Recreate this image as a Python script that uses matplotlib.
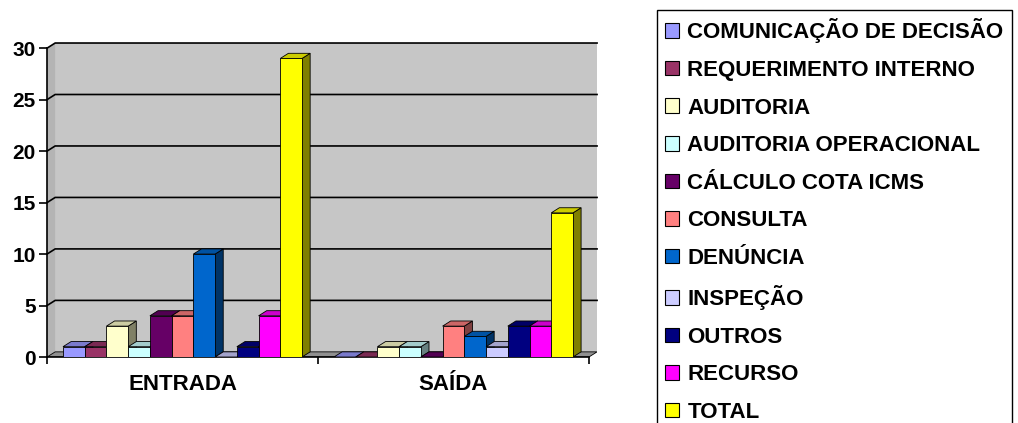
import numpy as np
import matplotlib
matplotlib.use("Agg")
from matplotlib import pyplot as plt
from matplotlib.patches import Patch, Polygon
from matplotlib import colors as mcolors

plt.rcParams['font.family'] = ['Liberation Sans', 'DejaVu Sans']

categories = ['ENTRADA', 'SAÍDA']
series = ['COMUNICAÇÃO DE DECISÃO', 'REQUERIMENTO INTERNO', 'AUDITORIA',
          'AUDITORIA OPERACIONAL', 'CÁLCULO COTA ICMS', 'CONSULTA',
          'DENÚNCIA', 'INSPEÇÃO', 'OUTROS', 'RECURSO', 'TOTAL']
entrada = [1, 1, 3, 1, 4, 4, 10, 0, 1, 4, 29]
saida = [0, 0, 1, 1, 0, 3, 2, 1, 3, 3, 14]
colors = ['#9999ff', '#993366', '#ffffcc', '#ccffff', '#660066', '#ff8080',
          '#0066cc', '#ccccff', '#000080', '#ff00ff', '#ffff00']
yticks = [0, 5, 10, 15, 20, 25, 30]

values = np.array([entrada, saida])  # shape (categories, series)

def shade(c, f):
    r, g, b = mcolors.to_rgb(c)
    return (r * f, g * f, b * f)

fig = plt.figure(figsize=(10.18, 4.23), dpi=100)
ax = fig.add_axes([0.0462, 0.156, 0.5403, 0.7423])

n = len(series)
w = 0.0802      # bar width
dx = 0.03       # 3d depth, x
dy = 0.5        # 3d depth, y

ax.set_xlim(-0.5, 1.5 + dx)
ax.set_ylim(0, 30 + dy)

# back wall + side wall
wall = Polygon([(-0.5 + dx, dy), (1.5 + dx, dy), (1.5 + dx, 30 + dy), (-0.5 + dx, 30 + dy)],
               closed=True, facecolor='#c6c6c6', edgecolor='none', zorder=0)
ax.add_patch(wall)
left_wall = Polygon([(-0.5, 0), (-0.5 + dx, dy), (-0.5 + dx, 30 + dy), (-0.5, 30)],
                    closed=True, facecolor='#b4b4b4', edgecolor='none', zorder=0)
ax.add_patch(left_wall)
for y in yticks[1:]:
    ax.plot([-0.5, -0.5 + dx, 1.5 + dx], [y, y + dy, y + dy], color='black', lw=1.2,
            zorder=1, clip_on=False)

# floor
floor = Polygon([(-0.5, 0), (1.5, 0), (1.5 + dx, dy), (-0.5 + dx, dy)],
                closed=True, facecolor='#909090', edgecolor='black', lw=0.6, zorder=2)
ax.add_patch(floor)

z = 3
for c in range(len(categories)):
    for i in range(n):
        h = values[c, i]
        x0 = c - n * w / 2 + i * w
        x1 = x0 + w
        side = Polygon([(x1, 0), (x1 + dx, dy), (x1 + dx, h + dy), (x1, h)],
                       closed=True, facecolor=shade(colors[i], 0.5),
                       edgecolor='black', lw=0.6, zorder=z)
        top = Polygon([(x0, h), (x1, h), (x1 + dx, h + dy), (x0 + dx, h + dy)],
                      closed=True, facecolor=shade(colors[i], 0.8),
                      edgecolor='black', lw=0.6, zorder=z)
        ax.add_patch(side)
        ax.add_patch(top)
        ax.bar(x0, h, width=w, align='edge', color=colors[i],
               edgecolor='black', lw=0.6, zorder=z + 1)
        z += 2

for s in ['top', 'right']:
    ax.spines[s].set_visible(False)
ax.spines['bottom'].set_bounds(-0.5, 1.5)
ax.spines['left'].set_bounds(0, 30)
ax.spines['left'].set_linewidth(1.2)
ax.spines['bottom'].set_linewidth(1.2)

ax.set_yticks(yticks)
ax.set_yticklabels([str(v) for v in yticks], fontsize=15, fontweight='bold')
ax.tick_params(axis='y', length=6, width=1.2, pad=2)

ax.set_xticks([0, 1])
ax.set_xticklabels(categories, fontsize=16, fontweight='bold')
ax.set_xticks([-0.5, 0.5, 1.5], minor=True)
ax.tick_params(axis='x', which='major', length=0, pad=12)
ax.tick_params(axis='x', which='minor', length=5, width=1.2)

handles = [Patch(facecolor=col, edgecolor='black', lw=0.8) for col in colors]
leg = fig.legend(handles, series, loc='upper left',
                 bbox_to_anchor=(657 / 1018, 1 - 10 / 423),
                 prop={'size': 16, 'weight': 'bold'},
                 handlelength=0.63, handleheight=0.63, handletextpad=0.36,
                 labelspacing=0.745, borderpad=0.38, borderaxespad=0,
                 fancybox=False, framealpha=1)
leg.get_frame().set_edgecolor('black')
leg.get_frame().set_linewidth(1.0)

fig.savefig('out.png', dpi=100)
